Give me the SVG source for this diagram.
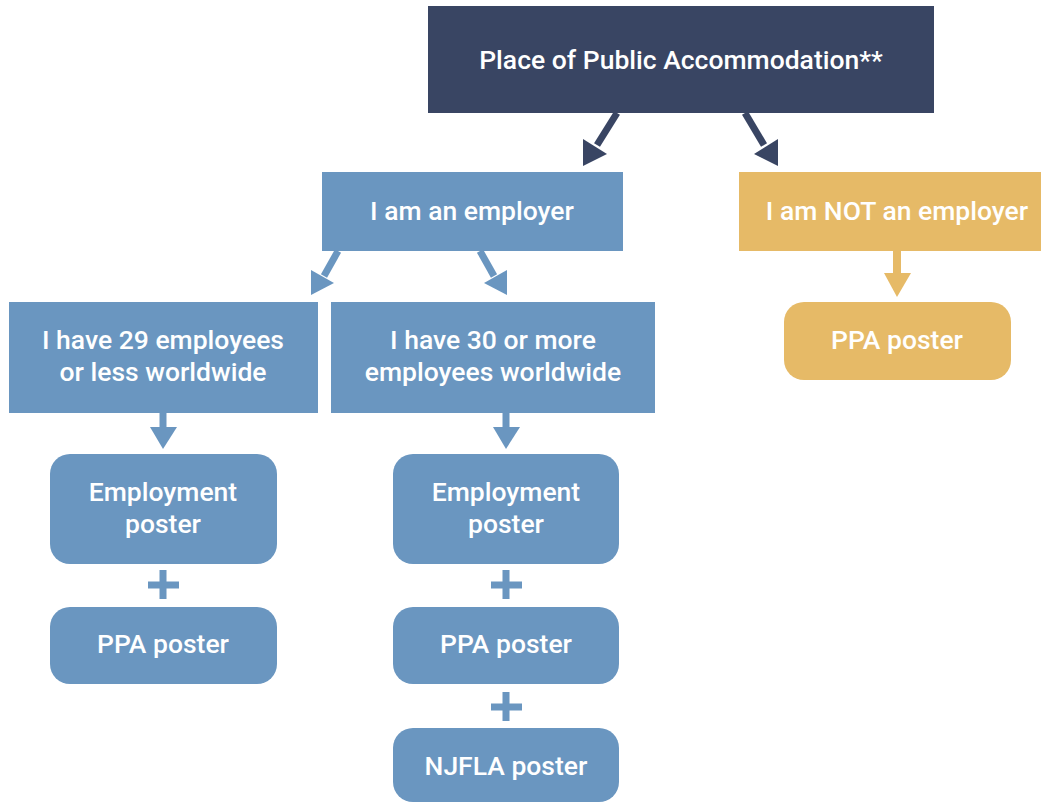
<svg xmlns="http://www.w3.org/2000/svg" width="1041" height="802" viewBox="0 0 1041 802">
<style>
text{font-family:Roboto,"Liberation Sans",sans-serif;font-weight:500;font-size:26.5px;fill:#fff;text-anchor:middle}
.dark{fill:#394563}
.blue{fill:#6A96C0}
.yellow{fill:#E6BA67}
.ld{stroke:#394563;stroke-width:7;fill:none}
.lb{stroke:#6A96C0;stroke-width:7;fill:none}
.ly{stroke:#E6BA67;stroke-width:8;fill:none}
</style>
<rect width="1041" height="802" fill="#fff"/>
<g id="connectors">
  <line class="ld" x1="617" y1="113" x2="597" y2="145"/>
  <polygon class="dark" points="583,166 583,139 607,154"/>
  <line class="ld" x1="745" y1="113" x2="764" y2="145"/>
  <polygon class="dark" points="778,166 754,154 778,139"/>
  <line class="lb" x1="338" y1="251" x2="324" y2="276"/>
  <polygon class="blue" points="311,295 311,270 334,283"/>
  <line class="lb" x1="480" y1="251" x2="494" y2="276"/>
  <polygon class="blue" points="507,295 484,283 507,270"/>
  <line class="ly" x1="897" y1="251" x2="897" y2="275"/>
  <polygon class="yellow" points="884,273 911,273 897,297"/>
  <line class="lb" x1="163" y1="413" x2="163" y2="430"/>
  <polygon class="blue" points="150,427 177,427 163,449"/>
  <line class="lb" x1="506" y1="413" x2="506" y2="430"/>
  <polygon class="blue" points="493,427 520,427 506,449"/>
  <path class="lb" d="M163,570V599M148,585H179"/>
  <path class="lb" d="M506,570V599M491,585H522"/>
  <path class="lb" d="M506,692V721M491,707H522"/>
</g>
<g id="n-ppa">
  <rect class="dark" x="428" y="6" width="506" height="107"/>
  <text x="681" y="69">Place of Public Accommodation**</text>
</g>
<g id="n-employer">
  <rect class="blue" x="322" y="172" width="301" height="79"/>
  <text x="472" y="220">I am an employer</text>
</g>
<g id="n-not-employer">
  <rect class="yellow" x="739" y="172" width="320" height="79"/>
  <text x="897" y="220">I am NOT an employer</text>
</g>
<g id="n-ppa-poster-right">
  <rect class="yellow" x="784" y="302" width="227" height="78" rx="20"/>
  <text x="897" y="349">PPA poster</text>
</g>
<g id="n-29">
  <rect class="blue" x="9" y="302" width="309" height="111"/>
  <text x="163" y="349">I have 29 employees</text>
  <text x="163" y="381">or less worldwide</text>
</g>
<g id="n-30">
  <rect class="blue" x="331" y="302" width="324" height="111"/>
  <text x="493" y="349">I have 30 or more</text>
  <text x="493" y="381">employees worldwide</text>
</g>
<g id="n-emp-left">
  <rect class="blue" x="50" y="454" width="227" height="110" rx="20"/>
  <text x="163" y="501">Employment</text>
  <text x="163" y="533">poster</text>
</g>
<g id="n-ppa-left">
  <rect class="blue" x="50" y="607" width="227" height="77" rx="20"/>
  <text x="163" y="653">PPA poster</text>
</g>
<g id="n-emp-mid">
  <rect class="blue" x="393" y="454" width="226" height="110" rx="20"/>
  <text x="506" y="501">Employment</text>
  <text x="506" y="533">poster</text>
</g>
<g id="n-ppa-mid">
  <rect class="blue" x="393" y="607" width="226" height="77" rx="20"/>
  <text x="506" y="653">PPA poster</text>
</g>
<g id="n-njfla">
  <rect class="blue" x="393" y="728" width="226" height="74" rx="20"/>
  <text x="506" y="775">NJFLA poster</text>
</g>
</svg>
